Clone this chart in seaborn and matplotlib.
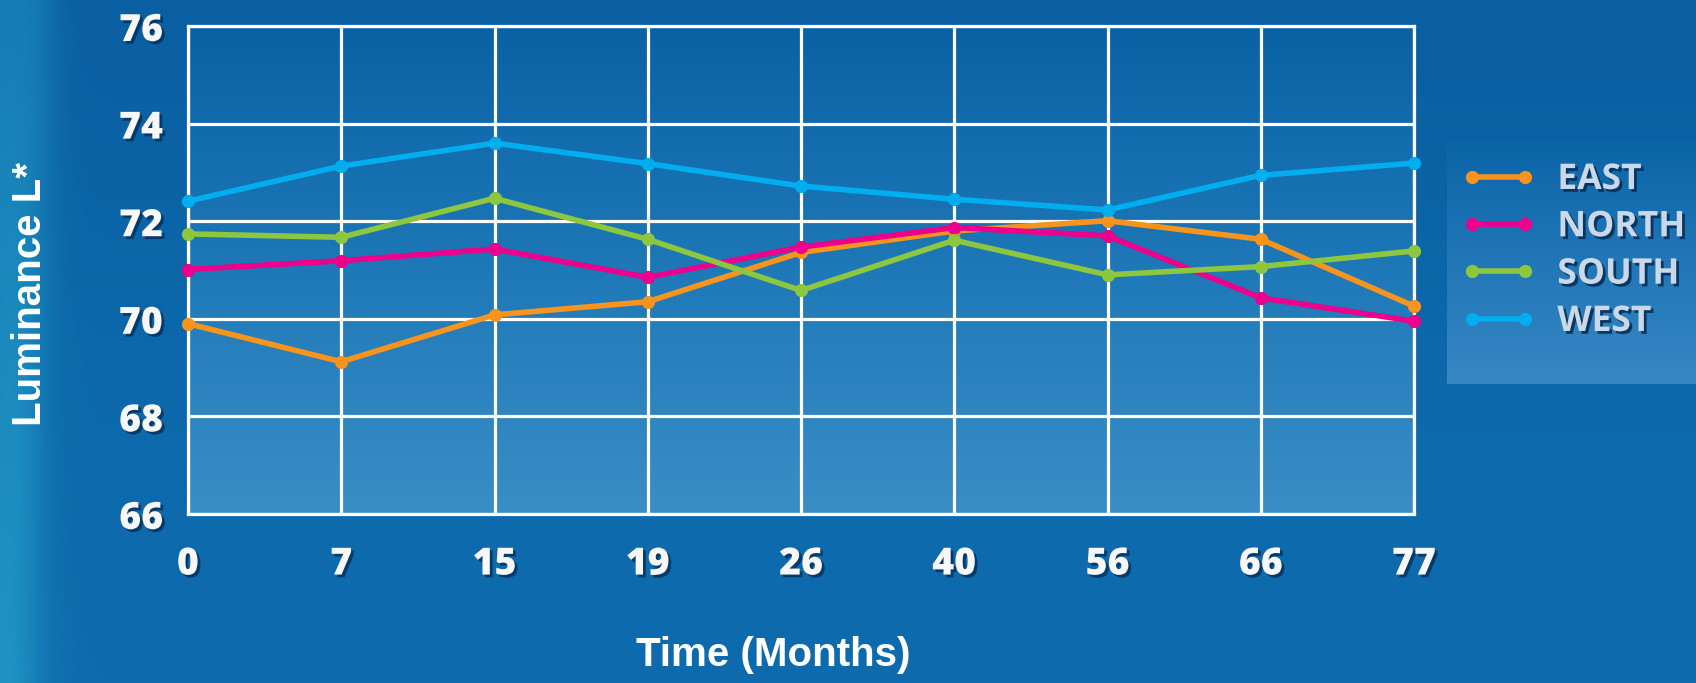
import numpy as np
import pandas as pd
import seaborn as sns
import matplotlib
matplotlib.use("Agg")
import matplotlib.pyplot as plt
from matplotlib import patheffects as pe
from matplotlib.lines import Line2D

# ---- data -------------------------------------------------------------
months = ["0", "7", "15", "19", "26", "40", "56", "66", "77"]
east = [69.90, 69.12, 70.08, 70.35, 71.36, 71.80, 72.01, 71.63, 70.26]
north = [71.01, 71.19, 71.43, 70.85, 71.47, 71.87, 71.70, 70.43, 69.95]
south = [71.74, 71.67, 72.47, 71.63, 70.58, 71.61, 70.90, 71.07, 71.39]
west = [72.41, 73.13, 73.60, 73.18, 72.72, 72.45, 72.23, 72.94, 73.19]
regions = ["EAST", "NORTH", "SOUTH", "WEST"]
colors = ["#F7941D", "#EC008C", "#8DC63F", "#00AEEF"]
y_ticks = [66, 68, 70, 72, 74, 76]

series = dict(zip(regions, [east, north, south, west]))
df = pd.DataFrame(
    [(m, r, v) for r in regions for m, v in zip(months, series[r])],
    columns=["Month", "Region", "L"],
)

sns.set_theme(style="white")
plt.rcParams["font.family"] = ["Open Sans", "DejaVu Sans"]

W, H = 1696, 683
fig = plt.figure(figsize=(W / 100, H / 100), dpi=100)


def vgradient(h, w, stops):
    """Vertical RGB gradient from a list of (position, (r, g, b)) stops."""
    t = np.linspace(0, 1, h)
    pos = [s[0] for s in stops]
    img = np.zeros((h, w, 3))
    for c in range(3):
        col = np.interp(t, pos, [s[1][c] / 255 for s in stops])
        img[:, :, c] = col[:, None]
    return img


# ---- page background --------------------------------------------------
bg = fig.add_axes([0, 0, 1, 1], zorder=-10)
bg.set_xlim(0, 1)
bg.set_ylim(0, 1)
bg.axis("off")
page = vgradient(H, W, [(0, (10, 94, 162)), (0.5, (12, 104, 170)), (1, (14, 108, 174))])
xp = np.arange(W)[None, :].astype(float)
yp = np.arange(H)[:, None].astype(float)
glow = 0.55 * np.exp(-((xp + 5) / 45.0) ** 2) * (0.75 + 0.25 * yp / H)
glow += 0.18 * np.exp(-((xp - 35 + 0.03 * yp) / 25.0) ** 2)
teal = np.array([40, 165, 205]) / 255
page = page * (1 - glow[..., None]) + teal * glow[..., None]
bg.imshow(np.clip(page, 0, 1), extent=[0, 1, 0, 1], aspect="auto",
          interpolation="bilinear")

# legend panel
panel = vgradient(120, 10, [(0, (11, 100, 166)), (0.3, (24, 112, 178)), (1, (55, 135, 195))])
bg.imshow(panel, extent=[1447 / W, 1.0, 1 - 384 / H, 1 - 140 / H],
          aspect="auto", interpolation="bilinear")

# ---- main plot ----------------------------------------------------------
left, right, top, bottom = 188 / W, 1414 / W, 26 / H, 514 / H
ax = fig.add_axes([left, 1 - bottom, right - left, bottom - top])
ax.set_facecolor("none")
plot_bg = vgradient(200, 10, [(0, (10, 98, 164)), (0.45, (28, 118, 182)), (1, (58, 142, 198))])
ax.imshow(plot_bg, extent=[0, 1, 0, 1], transform=ax.transAxes,
          aspect="auto", interpolation="bilinear", zorder=0)

sns.lineplot(
    data=df, x="Month", y="L", hue="Region", hue_order=regions,
    palette=dict(zip(regions, colors)), sort=False,
    marker="o", markersize=9.5, markeredgewidth=0, linewidth=4,
    legend=False, ax=ax, zorder=5,
)
for ln in ax.lines:
    ln.set_clip_on(False)

ax.set_xlim(0, len(months) - 1)
ax.set_ylim(66, 76)
ax.set_xticks(range(len(months)))
ax.set_xticklabels(months)
ax.set_yticks(y_ticks)
ax.set_yticklabels([str(v) for v in y_ticks])
ax.grid(True, color="white", linewidth=2.3)
ax.set_axisbelow(True)
for sp in ax.spines.values():
    sp.set_visible(True)
    sp.set_color("white")
    sp.set_linewidth(2.3)
    sp.set_zorder(2)

shadow = [pe.withSimplePatchShadow(offset=(2, -2), shadow_rgbFace="#05325e", alpha=0.85)]
ax.tick_params(axis="both", length=0, labelcolor="#f7f7f7", labelsize=27)
ax.tick_params(axis="y", pad=18)
ax.tick_params(axis="x", pad=22)
for lab in ax.get_xticklabels() + ax.get_yticklabels():
    lab.set_fontweight("heavy")
    lab.set_path_effects(shadow)

ax.set_xlabel("Time (Months)", color="white", fontsize=29, fontweight="bold",
              family=["Liberation Sans", "DejaVu Sans"])
ax.set_ylabel("Luminance L*", color="white", fontsize=29, fontweight="bold",
              family=["Liberation Sans", "DejaVu Sans"])
ax.xaxis.set_label_coords(773 / W, 1 - 655 / H, transform=fig.transFigure)
ax.xaxis.label.set_va("center")
ax.yaxis.set_label_coords(30 / W, 1 - 294 / H, transform=fig.transFigure)
ax.yaxis.label.set_va("center")
ax.yaxis.label.set_rotation_mode("default")

# ---- legend ---------------------------------------------------------------
handles = [Line2D([], [], color=c, marker="o", markersize=9.5, markeredgewidth=0,
                  linewidth=4) for c in colors]
leg = fig.legend(
    handles, regions, loc="center left", bbox_to_anchor=(1461 / W, 1 - 251 / H),
    frameon=False, numpoints=2, handlelength=2.1, handletextpad=0.62,
    labelspacing=0.32, borderpad=0, borderaxespad=0,
    prop={"family": ["Open Sans", "DejaVu Sans"], "weight": "bold", "size": 25.5},
)
for t in leg.get_texts():
    t.set_color("#cad8e8")
    t.set_path_effects([pe.withSimplePatchShadow(offset=(2, -2), shadow_rgbFace="#06305a", alpha=0.9)])

fig.savefig("out.png", dpi=100)
